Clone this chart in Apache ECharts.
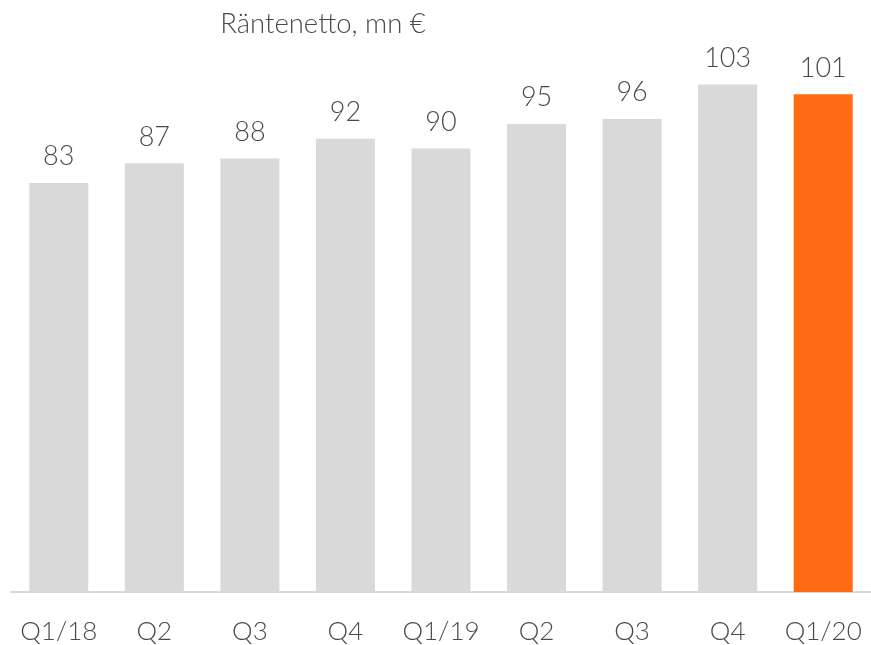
<!DOCTYPE html>
<html>
<head>
<meta charset="utf-8">
<script src="https://cdn.jsdelivr.net/npm/echarts@6/dist/echarts.min.js"></script>
<style>
  html, body { margin: 0; padding: 0; background: #fff; }
  #chart { width: 871px; height: 645px; }
</style>
</head>
<body>
<div id="chart"></div>
<script>
// Quarterly net interest income, EUR million
const chartTitle = 'Räntenetto, mn €';
const quarters = ['Q1/18', 'Q2', 'Q3', 'Q4', 'Q1/19', 'Q2', 'Q3', 'Q4', 'Q1/20'];
const netInterest = [83, 87, 88, 92, 90, 95, 96, 103, 101];
const highlightIndex = 8;

const grey = '#d9d9d9';
const orange = '#ff6a13';
const textColor = '#4a4a4a';
const fontFamily = 'Lato, "Open Sans", sans-serif';

const chart = echarts.init(document.getElementById('chart'));
chart.setOption({
  animation: false,
  title: {
    text: chartTitle,
    left: 318,
    top: 5,
    textAlign: 'center',
    textStyle: { fontFamily, fontWeight: 300, fontSize: 27.5, color: textColor }
  },
  grid: { left: 11, width: 864, top: 50, bottom: 53, containLabel: false },
  xAxis: {
    type: 'category',
    data: quarters,
    axisLine: { lineStyle: { color: '#d9d9d9', width: 2 } },
    axisTick: { show: false },
    axisLabel: { interval: 0, margin: 27, fontFamily, fontWeight: 300, fontSize: 26, color: textColor }
  },
  yAxis: {
    type: 'value',
    min: 0,
    max: 110,
    show: false,
    splitLine: { show: false }
  },
  series: [{
    type: 'bar',
    barWidth: 59,
    data: netInterest.map((v, i) => ({
      value: v,
      itemStyle: { color: i === highlightIndex ? orange : grey }
    })),
    label: {
      show: true,
      position: 'top',
      distance: 13,
      fontFamily,
      fontWeight: 300,
      fontSize: 27,
      color: textColor
    }
  }]
});
</script>
</body>
</html>
